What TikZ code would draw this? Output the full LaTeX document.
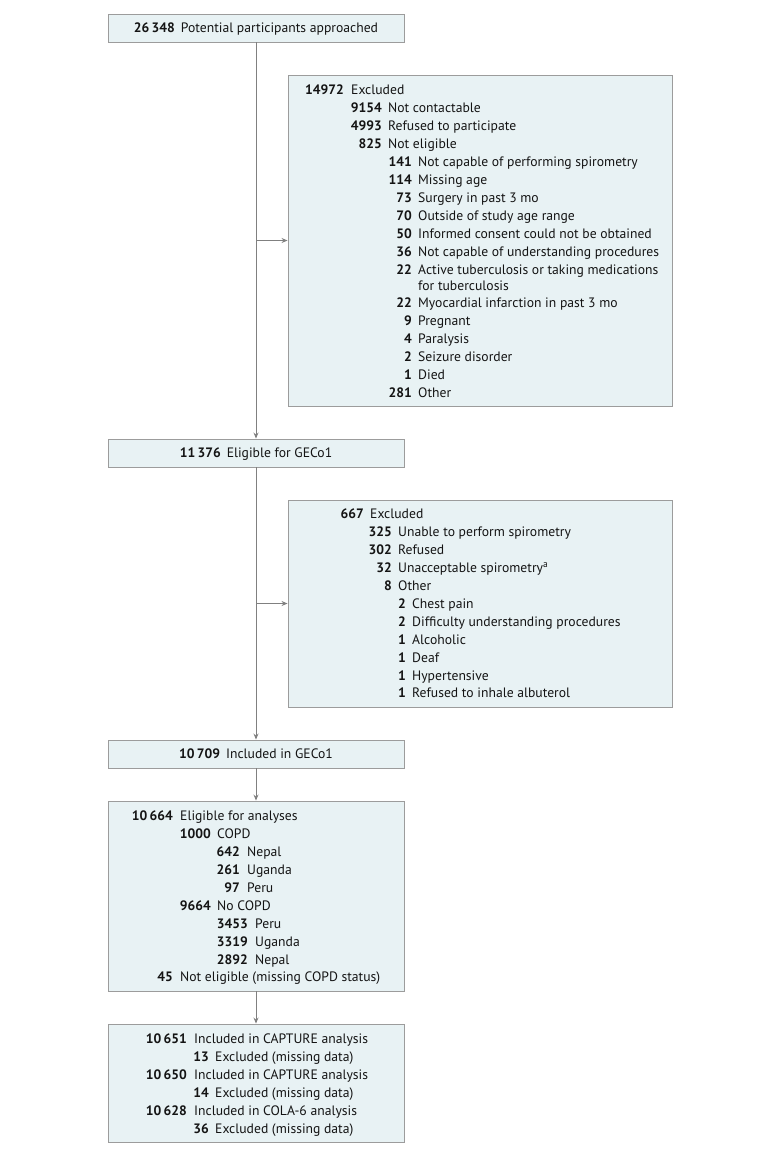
\documentclass[tikz,border=0pt]{standalone}
\usepackage{fontspec}
\setmainfont{PT Sans}
\usetikzlibrary{arrows.meta}
\definecolor{boxfill}{HTML}{E8F2F4}
\definecolor{boxline}{HTML}{9C9C9C}
\definecolor{conn}{HTML}{808080}
\definecolor{ink}{HTML}{141414}
\tikzset{
  box/.style={draw=boxline, fill=boxfill, line width=0.9bp, inner sep=0pt, rectangle},
  bt/.style={text height=9.6bp, text depth=0bp},
  num/.style={inner sep=0pt, yshift=-2bp, font=\fontsize{13.7}{16}\selectfont\bfseries, text=ink},
  txt/.style={inner sep=0pt, yshift=-2bp, font=\fontsize{13.7}{16}\selectfont, text=ink},
  conn/.style={draw=conn, line width=0.9bp},
  arr/.style={conn, -{Stealth[length=6bp,width=5bp]}}
}
\newcommand\rw[6]{%
  \node[num,anchor=mid east] (#1n) at (#2,#4) {#5};
  \node[txt,anchor=mid west] (#1t) at (#3,#4) {#6};}
\begin{document}
\begin{tikzpicture}[x=1bp,y=-1bp]
\useasboundingbox (0,0) rectangle (780,1155);
% main boxes
\node[box, minimum width=296bp, minimum height=28bp, font=\fontsize{13.7}{16}\selectfont, text=ink, bt] (b1) at (256,28)
  {\textbf{26\,348}\hspace{6bp}Potential participants approached};
\node[box, minimum width=296bp, minimum height=28bp, font=\fontsize{13.7}{16}\selectfont, text=ink, bt] (b2) at (256,453)
  {\textbf{11\,376}\hspace{6bp}Eligible for GECo1};
\node[box, minimum width=296bp, minimum height=28bp, font=\fontsize{13.7}{16}\selectfont, text=ink, bt] (b3) at (256,754)
  {\textbf{10\,709}\hspace{6bp}Included in GECo1};
\node[box, minimum width=384bp, minimum height=331bp] (ex1) at (480,240.5) {};
\node[box, minimum width=384bp, minimum height=207bp] (ex2) at (480,603.5) {};
\node[box, minimum width=296bp, minimum height=190bp] (b4) at (256,896) {};
\node[box, minimum width=296bp, minimum height=118bp] (b5) at (256,1083) {};
% connectors
\coordinate (j1) at (256,240.5);
\coordinate (j2) at (256,603.5);
\draw[arr] (b1.south) -- (b2.north);
\draw[arr] (j1) -- (ex1.west);
\draw[arr] (b2.south) -- (b3.north);
\draw[arr] (j2) -- (ex2.west);
\draw[arr] (b3.south) -- (b4.north);
\draw[arr] (b4.south) -- (b5.north);
% excluded box 1
\rw{a1}{344}{351}{90}{14972}{Excluded}
\rw{a2}{382}{388}{108}{9154}{Not contactable}
\rw{a3}{382}{388}{126}{4993}{Refused to participate}
\rw{a4}{382}{388}{144}{825}{Not eligible}
\rw{a5}{412}{418}{162}{141}{Not capable of performing spirometry}
\rw{a6}{412}{418}{180}{114}{Missing age}
\rw{a7}{412}{418}{198}{73}{Surgery in past 3 mo}
\rw{a8}{412}{418}{216}{70}{Outside of study age range}
\rw{a9}{412}{418}{234}{50}{Informed consent could not be obtained}
\rw{a10}{412}{418}{252}{36}{Not capable of understanding procedures}
\rw{a11}{412}{418}{270}{22}{Active tuberculosis or taking medications}
\node[txt,anchor=mid west] (a11b) at (418,286) {for tuberculosis};
\rw{a12}{412}{418}{303}{22}{Myocardial infarction in past 3 mo}
\rw{a13}{412}{418}{321}{9}{Pregnant}
\rw{a14}{412}{418}{339}{4}{Paralysis}
\rw{a15}{412}{418}{357}{2}{Seizure disorder}
\rw{a16}{412}{418}{375}{1}{Died}
\rw{a17}{412}{418}{393}{281}{Other}
% excluded box 2
\rw{c1}{364}{370}{514}{667}{Excluded}
\rw{c2}{392}{398}{532}{325}{Unable to perform spirometry}
\rw{c3}{392}{398}{550}{302}{Refused}
\rw{c4}{392}{398}{568}{32}{Unacceptable spirometry\textsuperscript{a}}
\rw{c5}{392}{398}{586}{8}{Other}
\rw{c6}{406}{412}{604}{2}{Chest pain}
\rw{c7}{406}{412}{622}{2}{Difficulty understanding procedures}
\rw{c8}{406}{412}{640}{1}{Alcoholic}
\rw{c9}{406}{412}{658}{1}{Deaf}
\rw{c10}{406}{412}{676}{1}{Hypertensive}
\rw{c11}{406}{412}{693}{1}{Refused to inhale albuterol}
% box 4
\rw{d1}{173}{180}{816}{10\,664}{Eligible for analyses}
\rw{d2}{211}{217}{834}{1000}{COPD}
\rw{d3}{240}{247}{852}{642}{Nepal}
\rw{d4}{240}{247}{870}{261}{Uganda}
\rw{d5}{240}{247}{888}{97}{Peru}
\rw{d6}{211}{217}{906}{9664}{No COPD}
\rw{d7}{248}{255}{924}{3453}{Peru}
\rw{d8}{248}{255}{942}{3319}{Uganda}
\rw{d9}{248}{255}{960}{2892}{Nepal}
\rw{d10}{173}{180}{977}{45}{Not eligible (missing COPD status)}
% box 5
\rw{e1}{187}{194}{1039}{10\,651}{Included in CAPTURE analysis}
\rw{e2}{209}{215}{1057}{13}{Excluded (missing data)}
\rw{e3}{187}{194}{1075}{10\,650}{Included in CAPTURE analysis}
\rw{e4}{209}{215}{1093}{14}{Excluded (missing data)}
\rw{e5}{187}{194}{1111}{10\,628}{Included in COLA-6 analysis}
\rw{e6}{209}{215}{1129}{36}{Excluded (missing data)}
\end{tikzpicture}
\end{document}
